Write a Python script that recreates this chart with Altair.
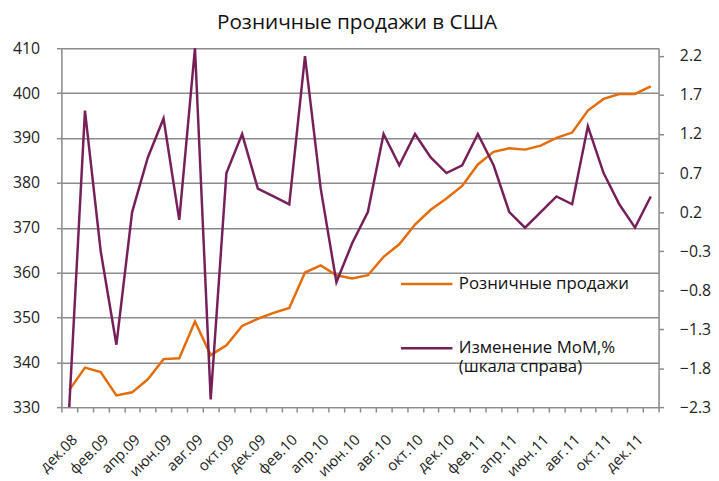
import altair as alt
import pandas as pd

months = ["дек.08", "янв.09", "фев.09", "мар.09", "апр.09", "май.09", "июн.09", "июл.09",
          "авг.09", "сен.09", "окт.09", "ноя.09", "дек.09", "янв.10", "фев.10", "мар.10",
          "апр.10", "май.10", "июн.10", "июл.10", "авг.10", "сен.10", "окт.10", "ноя.10",
          "дек.10", "янв.11", "фев.11", "мар.11", "апр.11", "май.11", "июн.11", "июл.11",
          "авг.11", "сен.11", "окт.11", "ноя.11", "дек.11", "янв.12"]

retail = [333.8, 338.8, 337.8, 332.6, 333.3, 336.2, 340.7, 340.9, 349.1, 341.6,
          343.8, 348.1, 349.7, 351.0, 352.1, 360.0, 361.6, 359.4, 358.7, 359.4,
          363.5, 366.3, 370.7, 374.0, 376.5, 379.3, 384.1, 386.9, 387.7, 387.4,
          388.3, 390.0, 391.2, 396.1, 398.7, 399.8, 399.8, 401.5]

mom = [-2.3, 1.5, -0.3, -1.5, 0.2, 0.9, 1.4, 0.1, 2.3, -2.2,
       0.7, 1.2, 0.5, 0.4, 0.3, 2.2, 0.5, -0.7, -0.2, 0.2,
       1.2, 0.8, 1.2, 0.9, 0.7, 0.8, 1.2, 0.8, 0.2, 0.0,
       0.2, 0.4, 0.3, 1.3, 0.7, 0.3, 0.0, 0.4]

shown_labels = months[::2]
left_ticks = [330, 340, 350, 360, 370, 380, 390, 400, 410]
right_ticks = [-2.3, -1.8, -1.3, -0.8, -0.3, 0.2, 0.7, 1.2, 1.7, 2.2]

series_names = ["Розничные продажи", "Изменение МоМ,%"]
series_colors = ["#E46C0A", "#76205A"]

df = pd.DataFrame({"month": months, "retail": retail, "mom": mom})

FONT = "Open Sans"
GRID = "#8c8c8c"

label_list = "[" + ",".join("'" + m + "'" for m in shown_labels) + "]"

x_enc = alt.X(
    "month:N", sort=months, bandPosition=0.5, title=None,
    scale=alt.Scale(type="band", paddingInner=0, paddingOuter=0),
    axis=alt.Axis(
        tickBand="extent", domainColor=GRID, domainWidth=1.5, tickColor=GRID, tickWidth=1.5,
        tickSize=5, labelAngle=315, labelAlign="right", labelBaseline="middle",
        labelPadding=25, labelOffset=5, labelFontSize=15, labelColor="#222", labelFont=FONT,
        labelExpr="indexof(" + label_list + ", datum.value) >= 0 ? datum.label : ''",
        labelOverlap=False, labelBound=False, grid=False,
    ),
)

legend = alt.Legend(
    orient="none", legendX=342, legendY=211, title=None, symbolType="stroke",
    symbolSize=2704, symbolStrokeWidth=2.5, labelFontSize=17, labelFont=FONT,
    labelColor="#111", labelLimit=400, labelOffset=5, rowPadding=29,
    labelExpr="datum.label == 'Изменение МоМ,%' ? ['Изменение МоМ,%', '(шкала справа)'] : datum.label",
)

color_scale = alt.Scale(domain=series_names, range=series_colors)

base = alt.Chart(df)

line_retail = base.mark_line(strokeWidth=2.5).transform_calculate(
    series="'" + series_names[0] + "'"
).encode(
    x=x_enc,
    y=alt.Y("retail:Q", title=None,
            scale=alt.Scale(domain=[330, 410], nice=False, zero=False),
            axis=alt.Axis(values=left_ticks, grid=True, gridColor=GRID, gridWidth=1.5,
                          domainColor=GRID, domainWidth=1.5, tickColor=GRID, tickWidth=1.5,
                          tickSize=5, labelFontSize=16, labelFont=FONT, labelColor="#222",
                          labelPadding=17)),
    color=alt.Color("series:N", scale=color_scale, legend=legend),
)

line_mom = base.mark_line(strokeWidth=2.5).transform_calculate(
    series="'" + series_names[1] + "'"
).encode(
    x=x_enc,
    y=alt.Y("mom:Q", title=None,
            scale=alt.Scale(domain=[-2.3, 2.3], nice=False, zero=False),
            axis=alt.Axis(orient="right", values=right_ticks, format=".1f", grid=False,
                          domainColor=GRID, domainWidth=1.5, tickColor=GRID, tickWidth=1.5,
                          tickSize=5, labelFontSize=16, labelFont=FONT, labelColor="#222",
                          labelPadding=16)),
    color=alt.Color("series:N", scale=color_scale, legend=legend),
)

chart = alt.layer(line_retail, line_mom).resolve_scale(y="independent").properties(
    width=604, height=363,
    autosize=alt.AutoSizeParams(type="none"),
    padding={"left": 54, "top": 38, "right": 53, "bottom": 70},
    title=alt.TitleParams("Розничные продажи в США", fontSize=21, font=FONT,
                          fontWeight="normal", color="#111", anchor="middle", dx=-3,
                          offset=7),
).configure_view(stroke=None).configure(background="white")

chart.save("out.html", embed_options={"renderer": "svg", "actions": False})
